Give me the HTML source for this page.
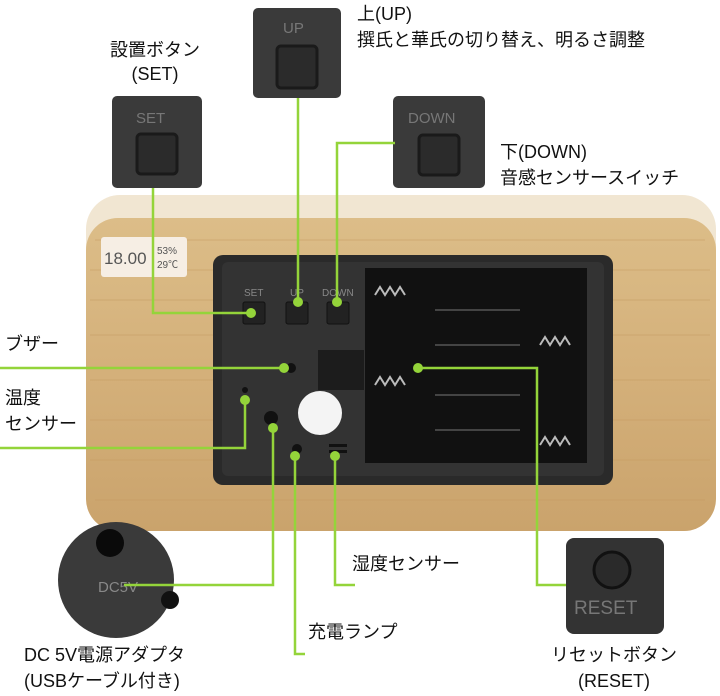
<!DOCTYPE html>
<html><head><meta charset="utf-8"><style>
body{margin:0;background:#fff;}
svg{display:block}
text{font-family:"Liberation Sans","Noto Sans CJK JP",sans-serif;font-size:18px;fill:#111}
</style></head><body>
<svg width="720" height="696" viewBox="0 0 720 696" xmlns="http://www.w3.org/2000/svg">
<defs>
<linearGradient id="wood" x1="0" y1="0" x2="0" y2="1">
<stop offset="0" stop-color="#dcbd88"/><stop offset="0.5" stop-color="#d4b07a"/><stop offset="1" stop-color="#caa36c"/>
</linearGradient>
</defs>
<!-- wood body -->
<rect x="86" y="195" width="630" height="336" rx="34" fill="#f1e6d2"/>
<rect x="86" y="218" width="630" height="313" rx="32" fill="url(#wood)"/>
<g stroke="#c49a60" stroke-width="1" opacity="0.5">
<line x1="95" y1="240" x2="705" y2="240"/><line x1="90" y1="270" x2="710" y2="270"/>
<line x1="90" y1="300" x2="710" y2="300"/><line x1="90" y1="335" x2="710" y2="335"/>
<line x1="90" y1="380" x2="710" y2="380"/><line x1="90" y1="420" x2="710" y2="420"/>
<line x1="90" y1="460" x2="710" y2="460"/><line x1="95" y1="500" x2="705" y2="500"/>
</g>
<!-- lcd -->
<rect x="101" y="237" width="86" height="40" rx="3" fill="#f6eee4"/>
<text x="104" y="264" style="font-size:17px;fill:#555">18.00</text>
<text x="157" y="254" style="font-size:10px;fill:#555">53%</text>
<text x="157" y="268" style="font-size:10px;fill:#555">29℃</text>
<!-- panel -->
<rect x="213" y="255" width="400" height="230" rx="10" fill="#2a2a2a"/>
<rect x="222" y="262" width="382" height="214" rx="6" fill="#333"/>
<rect x="365" y="268" width="222" height="195" fill="#111"/>
<g stroke="#444" stroke-width="2">
<line x1="435" y1="310" x2="520" y2="310"/><line x1="435" y1="345" x2="520" y2="345"/>
<line x1="435" y1="395" x2="520" y2="395"/><line x1="435" y1="430" x2="520" y2="430"/>
</g>
<g stroke="#bbb" stroke-width="2" fill="none">
<path d="M375 295 l5 -8 l5 8 l5 -8 l5 8 l5 -8 l5 8"/>
<path d="M375 385 l5 -8 l5 8 l5 -8 l5 8 l5 -8 l5 8"/>
<path d="M540 345 l5 -8 l5 8 l5 -8 l5 8 l5 -8 l5 8"/>
<path d="M540 445 l5 -8 l5 8 l5 -8 l5 8 l5 -8 l5 8"/>
</g>
<rect x="318" y="350" width="46" height="40" fill="#1c1c1c"/>
<text x="244" y="296" style="font-size:10px;fill:#888">SET</text>
<text x="290" y="296" style="font-size:10px;fill:#888">UP</text>
<text x="322" y="296" style="font-size:10px;fill:#888">DOWN</text>
<rect x="243" y="302" width="22" height="22" rx="2" fill="#222" stroke="#111"/>
<rect x="286" y="302" width="22" height="22" rx="2" fill="#222" stroke="#111"/>
<rect x="327" y="302" width="22" height="22" rx="2" fill="#222" stroke="#111"/>
<circle cx="291" cy="368" r="5" fill="#111"/>
<circle cx="245" cy="390" r="3" fill="#111"/>
<circle cx="271" cy="418" r="7" fill="#111"/>
<circle cx="297" cy="449" r="5" fill="#111"/>
<circle cx="320" cy="413" r="22" fill="#f4f4f4"/>
<rect x="329" y="444" width="18" height="3" fill="#111"/><rect x="329" y="450" width="18" height="3" fill="#111"/>
<!-- button pictures -->
<rect x="112" y="96" width="90" height="92" rx="5" fill="#3a3a3a"/>
<text x="136" y="123" style="font-size:15px;fill:#777">SET</text>
<rect x="137" y="134" width="40" height="40" rx="4" fill="#2b2b2b" stroke="#1a1a1a" stroke-width="3"/>
<rect x="253" y="8" width="88" height="90" rx="5" fill="#3a3a3a"/>
<text x="283" y="33" style="font-size:15px;fill:#777">UP</text>
<rect x="277" y="46" width="40" height="42" rx="4" fill="#2b2b2b" stroke="#1a1a1a" stroke-width="3"/>
<rect x="393" y="96" width="92" height="92" rx="5" fill="#3a3a3a"/>
<text x="408" y="123" style="font-size:15px;fill:#777">DOWN</text>
<rect x="419" y="135" width="40" height="40" rx="4" fill="#2b2b2b" stroke="#1a1a1a" stroke-width="3"/>
<!-- reset -->
<rect x="566" y="538" width="98" height="96" rx="8" fill="#333"/>
<circle cx="612" cy="570" r="18" fill="#2a2a2a" stroke="#111" stroke-width="3"/>
<text x="574" y="614" style="font-size:19px;fill:#777">RESET</text>
<!-- DC -->
<circle cx="116" cy="580" r="58" fill="#3a3a3a"/>
<circle cx="110" cy="543" r="14" fill="#0a0a0a"/>
<circle cx="170" cy="600" r="9" fill="#111"/>
<text x="98" y="592" style="font-size:15px;fill:#888">DC5V</text>
<!-- green connectors -->
<g stroke="#94d43a" stroke-width="2.5" fill="none">
<path d="M153 188 V313 H251"/>
<path d="M298 98 V302"/>
<path d="M395 143 H337 V302"/>
<path d="M0 368 H284"/>
<path d="M0 448 H245 V400"/>
<path d="M273 428 V585 H124"/>
<path d="M295 456 V654 H305"/>
<path d="M335 456 V585 H355"/>
<path d="M418 368 H537 V585 H566"/>
</g>
<g fill="#94d43a">
<circle cx="251" cy="313" r="5"/><circle cx="298" cy="302" r="5"/><circle cx="337" cy="302" r="5"/>
<circle cx="284" cy="368" r="5"/><circle cx="245" cy="400" r="5"/><circle cx="273" cy="428" r="5"/>
<circle cx="295" cy="456" r="5"/><circle cx="335" cy="456" r="5"/><circle cx="418" cy="368" r="5"/>
</g>
<!-- labels -->
<text x="155" y="56" text-anchor="middle">設置ボタン</text>
<text x="155" y="80" text-anchor="middle">(SET)</text>
<text x="357" y="20">上(UP)</text>
<text x="357" y="46">撰氏と華氏の切り替え、明るさ調整</text>
<text x="500" y="158">下(DOWN)</text>
<text x="500" y="184">音感センサースイッチ</text>
<text x="5" y="350">ブザー</text>
<text x="5" y="404">温度</text>
<text x="5" y="430">センサー</text>
<text x="352" y="570">湿度センサー</text>
<text x="308" y="638">充電ランプ</text>
<text x="24" y="661">DC 5V電源アダプタ</text>
<text x="24" y="687">(USBケーブル付き)</text>
<text x="614" y="661" text-anchor="middle">リセットボタン</text>
<text x="614" y="687" text-anchor="middle">(RESET)</text>
</svg>
</body></html>
